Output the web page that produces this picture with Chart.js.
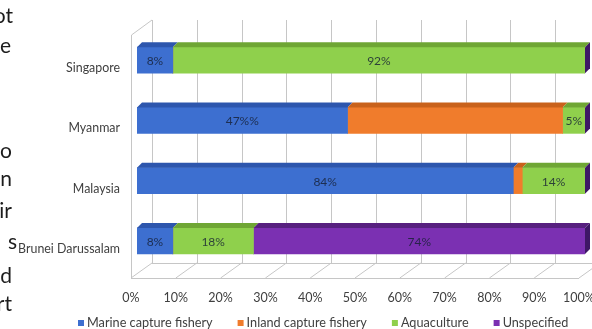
<!DOCTYPE html>
<html>
<head>
<meta charset="utf-8">
<script src="https://cdn.jsdelivr.net/npm/chart.js@4.4.1/dist/chart.umd.min.js"></script>
<style>
  html, body { margin: 0; padding: 0; background: #fff; }
  #wrap { position: relative; width: 592px; height: 329px; overflow: hidden; background: #fff; }
  #wrap canvas { position: absolute; left: 0; top: 0; }
  .frag {
    position: absolute;
    font-family: Lato, "Open Sans", sans-serif;
    font-size: 21px;
    line-height: 21px;
    color: #1c1c1c;
    white-space: nowrap;
    text-align: right;
  }
</style>
</head>
<body>
<div id="wrap">
  <canvas id="chart" width="592" height="329"></canvas>
</div>
<script>
// Share of catch by source, per country (percent of total)
const countries = ['Singapore', 'Myanmar', 'Malaysia', 'Brunei Darussalam'];
const seriesNames = ['Marine capture fishery', 'Inland capture fishery', 'Aquaculture', 'Unspecified'];

const marine      = [8, 47, 84, 8];
const inland      = [0, 48, 2, 0];
const aquaculture = [92, 5, 14, 18];
const unspecified = [0, 0, 0, 74];

// Value labels printed on the bars ('' = no label)
const marineLabels      = ['8%', '47%%', '84%', '8%'];
const inlandLabels      = ['', '', '', ''];
const aquacultureLabels = ['92%', '5%', '14%', '18%'];
const unspecifiedLabels = ['', '', '', '74%'];

const xTickValues = [0, 10, 20, 30, 40, 50, 60, 70, 80, 90, 100];

// Line endings of the surrounding body text, cut by the figure
const sideText = ['ot', 'e', 'o', 'n', 'ir', 's', 'd', 'rt'];

// ---- surrounding text fragments ----
(function placeSideText() {
  const tops  = [4, 34, 139, 167, 199, 230, 264, 292];
  const rights = [13, 11, 12, 12, 12, 17, 12, 12];
  const wrap = document.getElementById('wrap');
  sideText.forEach((t, i) => {
    const d = document.createElement('div');
    d.className = 'frag';
    d.textContent = t;
    d.style.top = tops[i] + 'px';
    d.style.right = (592 - rights[i]) + 'px';
    wrap.appendChild(d);
  });
})();

// ---- styling ----
const FONT = 'Lato, "Open Sans", sans-serif';
const fillColors = ['#3d6fd0', '#f07c2c', '#8fd04c', '#7b30b2'];
const topColors  = ['#2d56ad', '#c9621b', '#6fa634', '#57207f'];
const endColor   = '#3e1766';
const gridColor  = '#c6c6c6';
const DEPTH = 5;                   // bar depth in px
const WALL_DX = 21, WALL_DY = 15;  // chart box depth
const FRONT_SHIFT = 6;             // front plane sits this far left of bar start

const valueLabels = [marineLabels, inlandLabels, aquacultureLabels, unspecifiedLabels];

// Draws the 3D box: back wall grid, left wall, floor grid; then bar tops, ends and labels
const box3d = {
  id: 'box3d',
  beforeDatasetsDraw(chart) {
    const { ctx, chartArea: a, scales: { x } } = chart;
    const fx = v => x.getPixelForValue(v) - FRONT_SHIFT;
    const yTopFront = a.top + 5;
    const yBotFront = a.bottom + 7;
    const ln = (x1, y1, x2, y2) => { ctx.beginPath(); ctx.moveTo(x1, y1); ctx.lineTo(x2, y2); ctx.stroke(); };
    ctx.save();
    ctx.strokeStyle = gridColor;
    ctx.lineWidth = 1;
    xTickValues.forEach(v => {
      const bx = Math.round(fx(v) + WALL_DX) + 0.5;
      ln(bx, yTopFront - WALL_DY, bx, yBotFront - WALL_DY);
    });
    ln(fx(0) + WALL_DX, yBotFront - WALL_DY + 0.5, fx(100) + WALL_DX, yBotFront - WALL_DY + 0.5);
    ln(fx(0), yBotFront + 0.5, fx(100), yBotFront + 0.5);
    xTickValues.forEach(v => ln(fx(v), yBotFront, fx(v) + WALL_DX, yBotFront - WALL_DY));
    const lx = Math.round(fx(0)) + 0.5;
    ln(lx, yTopFront, lx, yBotFront);
    ln(lx, yTopFront, fx(0) + WALL_DX, yTopFront - WALL_DY);
    ctx.restore();
  },
  afterDatasetsDraw(chart) {
    const { ctx } = chart;
    const n = chart.data.datasets.length;
    ctx.save();
    for (let i = 0; i < n; i++) {
      chart.getDatasetMeta(i).data.forEach(el => {
        const { x, y, base, height } = el.getProps(['x', 'y', 'base', 'height'], true);
        if (Math.abs(x - base) < 0.5) return;
        const t = y - height / 2;
        ctx.fillStyle = topColors[i];
        ctx.beginPath();
        ctx.moveTo(base, t);
        ctx.lineTo(x, t);
        ctx.lineTo(x + DEPTH, t - DEPTH);
        ctx.lineTo(base + DEPTH, t - DEPTH);
        ctx.closePath();
        ctx.fill();
      });
    }
    chart.getDatasetMeta(n - 1).data.forEach(el => {
      const { x, y, height } = el.getProps(['x', 'y', 'height'], true);
      const t = y - height / 2, b = y + height / 2;
      ctx.fillStyle = endColor;
      ctx.beginPath();
      ctx.moveTo(x, t);
      ctx.lineTo(x + DEPTH, t - DEPTH);
      ctx.lineTo(x + DEPTH, b - DEPTH);
      ctx.lineTo(x, b);
      ctx.closePath();
      ctx.fill();
    });
    ctx.font = '12px ' + FONT;
    ctx.textAlign = 'center';
    ctx.textBaseline = 'middle';
    ctx.fillStyle = 'rgba(22, 32, 52, 0.82)';
    for (let i = 0; i < n; i++) {
      chart.getDatasetMeta(i).data.forEach((el, j) => {
        const txt = valueLabels[i][j];
        if (!txt) return;
        const { x, y, base } = el.getProps(['x', 'y', 'base'], true);
        ctx.fillText(txt, (x + base) / 2, y + 1);
      });
    }
    ctx.restore();
  }
};

// Series key along the bottom edge, built from the datasets
const seriesKey = {
  id: 'seriesKey',
  afterDraw(chart) {
    const { ctx } = chart;
    const y = 323;
    let x = 78;
    ctx.save();
    ctx.font = '12.7px ' + FONT;
    ctx.textAlign = 'left';
    ctx.textBaseline = 'middle';
    chart.data.datasets.forEach(ds => {
      ctx.fillStyle = ds.backgroundColor;
      ctx.fillRect(x, y - 3, 6, 6);
      ctx.fillStyle = '#404040';
      ctx.fillText(ds.label, x + 9, y);
      x += 9 + ctx.measureText(ds.label).width + 25;
    });
    ctx.restore();
  }
};

const seriesData = [marine, inland, aquaculture, unspecified];

new Chart(document.getElementById('chart'), {
  type: 'bar',
  data: {
    labels: countries,
    datasets: seriesNames.map((name, i) => ({
      label: name,
      data: seriesData[i],
      backgroundColor: fillColors[i],
      borderWidth: 0,
      barThickness: 26
    }))
  },
  options: {
    indexAxis: 'y',
    responsive: false,
    animation: false,
    devicePixelRatio: 1,
    layout: { padding: { top: 30, right: 0, bottom: 24, left: 0 } },
    scales: {
      x: {
        stacked: true,
        min: 0,
        max: 100,
        grid: { display: false, drawTicks: false },
        border: { display: false },
        afterFit: s => { s.height = 34; s.paddingLeft = 0; s.paddingRight = 7; },
        ticks: {
          stepSize: 10,
          autoSkip: false,
          maxRotation: 0,
          padding: 19,
          labelOffset: -FRONT_SHIFT,
          color: '#404040',
          font: { family: FONT, size: 12.5 },
          callback: v => v + '%'
        }
      },
      y: {
        stacked: true,
        grid: { display: false, drawTicks: false },
        border: { display: false },
        afterFit: s => { s.width = 137; s.paddingTop = 0; s.paddingBottom = 0; },
        ticks: {
          padding: 17,
          labelOffset: 8,
          color: '#404040',
          font: { family: FONT, size: 12.4 }
        }
      }
    },
    plugins: {
      tooltip: { enabled: false },
      legend: { display: false }
    }
  },
  plugins: [box3d, seriesKey]
});
</script>
</body>
</html>
